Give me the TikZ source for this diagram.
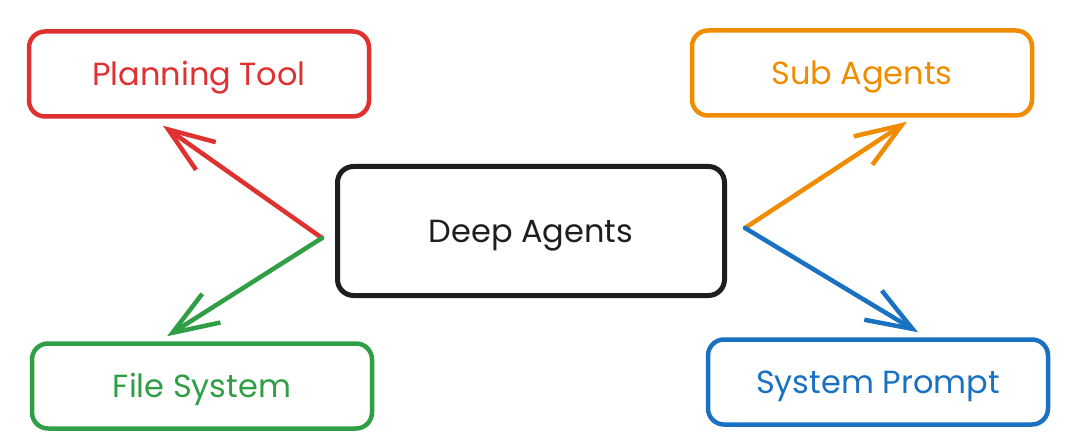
\documentclass[tikz,border=0pt]{standalone}
\usepackage{fontspec}
\setmainfont{Poppins}
\usetikzlibrary{arrows.meta,calc}
\definecolor{exred}{HTML}{E03131}
\definecolor{exgreen}{HTML}{2F9E44}
\definecolor{exorange}{HTML}{F08C00}
\definecolor{exblue}{HTML}{1971C2}
\definecolor{exblack}{HTML}{1E1E1E}

\begin{document}
\begin{tikzpicture}[x=1pt,y=-1pt,line cap=round,line join=round,
  box/.style={draw,line width=4.5pt,rounded corners=16pt,minimum width=340pt,
    minimum height=85pt,text height=23pt,text depth=0pt,font=\fontsize{32}{36}\selectfont},
  link/.style={line width=4.5pt,-{Straight Barb[length=46pt,width=34pt]}}]
\useasboundingbox (0,0) rectangle (1080,441);
% the four tools round the centre
\node[box,exred] (plan) at (199,74) {Planning Tool};
\node[box,exorange] (sub) at (862,73) {Sub Agents};
\node[box,exgreen] (files) at (202,386) {File System};
\node[box,exblue] (prompt) at (878,382) {System Prompt};
\node[box,exblack,line width=5pt,minimum width=387pt,minimum height=129pt] (deep) at (531,231) {Deep Agents};
% where the arrows leave the centre box
\coordinate (lhub) at ($(deep.west)+(-13,7)$);
\coordinate (rhub) at ($(deep.east)+(18,-3)$);
\draw[link,exred] (lhub) -- ($(plan.south)+(-36,7)$);
\draw[link,exgreen] (lhub) -- ($(files.north)+(-35,-5)$);
\draw[link,exorange] (rhub) -- ($(sub.south)+(45,4)$);
\draw[link,exblue] (rhub) -- ($(prompt.north)+(40,-5)$);
\end{tikzpicture}
\end{document}
